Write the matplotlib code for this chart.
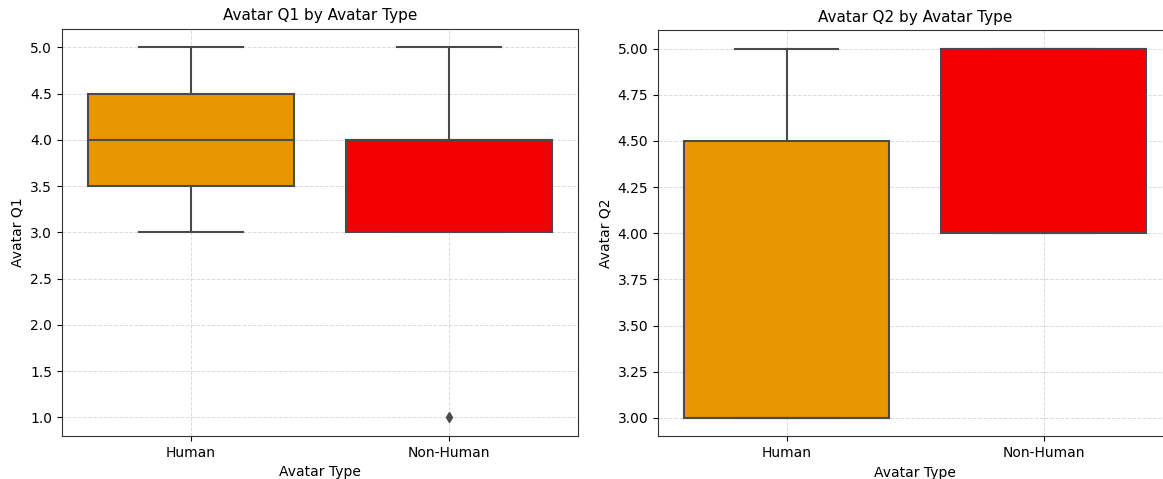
import matplotlib.pyplot as plt

categories = ['Human', 'Non-Human']
box_colors = ['#E89700', '#F20000']

# Avatar Q1 box stats
q1_whislo = [3.0, 3.0]
q1_q1 = [3.5, 3.0]
q1_med = [4.0, 4.0]
q1_q3 = [4.5, 4.0]
q1_whishi = [5.0, 5.0]
q1_fliers = [[], [1.0]]

# Avatar Q2 box stats
q2_whislo = [3.0, 4.0]
q2_q1 = [3.0, 4.0]
q2_med = [3.0, 5.0]
q2_q3 = [4.5, 5.0]
q2_whishi = [5.0, 5.0]
q2_fliers = [[], []]


def make_stats(lo, q1, med, q3, hi, fliers):
    stats = []
    for i in range(len(categories)):
        stats.append({'whislo': lo[i], 'q1': q1[i], 'med': med[i], 'q3': q3[i],
                      'whishi': hi[i], 'fliers': fliers[i], 'label': categories[i]})
    return stats


def draw(ax, stats, title, ylabel):
    line = '#4a4a4a'
    bp = ax.bxp(stats, positions=range(len(categories)), widths=0.8,
                patch_artist=True, showfliers=True,
                boxprops=dict(edgecolor=line, linewidth=1.5),
                whiskerprops=dict(color=line, linewidth=1.5),
                capprops=dict(color=line, linewidth=1.5),
                medianprops=dict(color=line, linewidth=1.5),
                flierprops=dict(marker='d', markerfacecolor=line,
                                markeredgecolor=line, markersize=5))
    for patch, c in zip(bp['boxes'], box_colors):
        patch.set_facecolor(c)
    ax.set_xlim(-0.5, len(categories) - 0.5)
    ax.set_xticks(range(len(categories)))
    ax.set_xticklabels(categories)
    ax.grid(True, linestyle='--', color='#cccccc', linewidth=0.7, alpha=0.7)
    for s in ax.spines.values():
        s.set_color('#333333')
    ax.set_title(title, fontsize=11)
    ax.set_xlabel('Avatar Type')
    ax.set_ylabel(ylabel)


fig = plt.figure(figsize=(11.63, 4.79), dpi=100)
ax1 = fig.add_axes([0.0533, 0.090, 0.4437, 0.850])
ax2 = fig.add_axes([0.5658, 0.089, 0.4420, 0.848])

draw(ax1, make_stats(q1_whislo, q1_q1, q1_med, q1_q3, q1_whishi, q1_fliers),
     'Avatar Q1 by Avatar Type', 'Avatar Q1')
draw(ax2, make_stats(q2_whislo, q2_q1, q2_med, q2_q3, q2_whishi, q2_fliers),
     'Avatar Q2 by Avatar Type', 'Avatar Q2')

fig.savefig('out.png', dpi=100)
